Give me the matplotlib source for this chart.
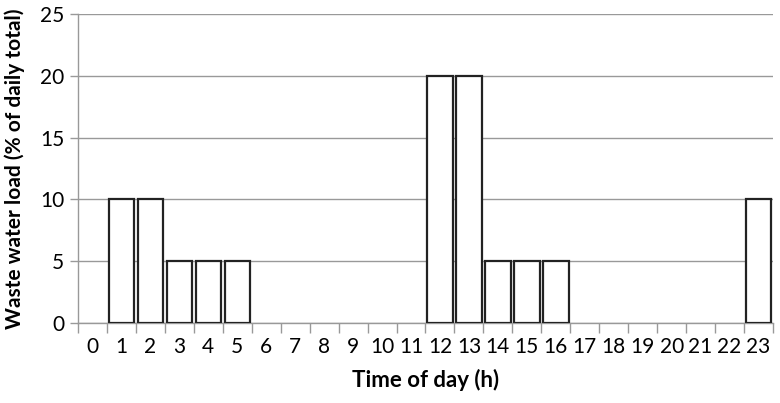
import numpy as np
import matplotlib.pyplot as plt

# datos: carga horaria de aguas residuales
horas = list(range(24))
carga = [0, 10, 10, 5, 5, 5, 0, 0, 0, 0, 0, 0,
         20, 20, 5, 5, 5, 0, 0, 0, 0, 0, 0, 10]

plt.rcParams['font.family'] = ['Lato', 'DejaVu Sans']

fig = plt.figure(figsize=(7.8, 4.03), dpi=100)
ax = fig.add_axes([0.1, 0.1985, 0.891, 0.7665])

# las barras de altura cero no se dibujan con borde
bordes = ['#222222' if c > 0 else 'none' for c in carga]
ax.bar(horas, carga, width=0.88, color='white', edgecolor=bordes,
       linewidth=1.6, zorder=3)

ax.set_xlim(-0.5, 23.5)
ax.set_ylim(0, 25)
ax.set_yticks([0, 5, 10, 15, 20, 25])
ax.set_xticks(horas)
ax.set_xticks(np.arange(-0.5, 24, 1), minor=True)

ax.grid(axis='y', color='#999999', linewidth=1, zorder=0)
for s in ['top', 'right']:
    ax.spines[s].set_visible(False)
for s in ['left', 'bottom']:
    ax.spines[s].set_color('#999999')
    ax.spines[s].set_linewidth(1)

ax.tick_params(axis='x', which='major', length=0, pad=10, labelsize=15)
ax.tick_params(axis='x', which='minor', length=7, color='#999999', width=1)
ax.tick_params(axis='y', length=6, color='#999999', width=1, pad=4, labelsize=15)

ax.set_xlabel("Time of day (h)", fontsize=16, fontweight='bold', labelpad=9)
ax.set_ylabel("Waste water load (% of daily total)", fontsize=15,
              fontweight='bold', labelpad=11)

fig.savefig("out.png")
